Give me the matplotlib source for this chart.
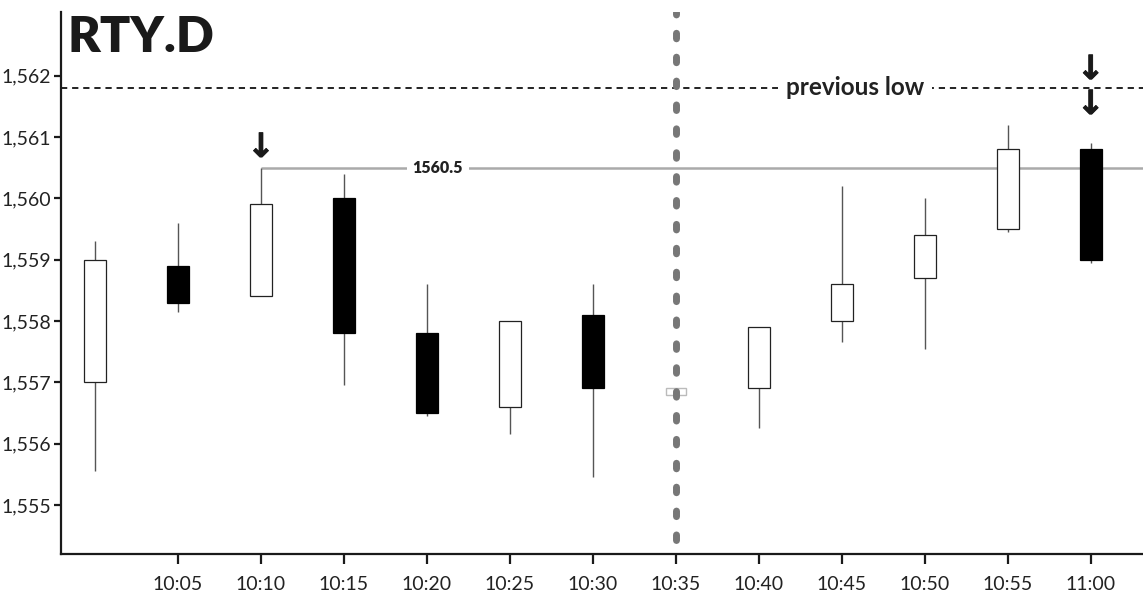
import matplotlib
matplotlib.use("Agg")
import matplotlib.pyplot as plt
import matplotlib.patheffects as pe
from matplotlib.patches import Rectangle
from matplotlib.ticker import FuncFormatter

times = ["10:00", "10:05", "10:10", "10:15", "10:20", "10:25", "10:30",
         "10:35", "10:40", "10:45", "10:50", "10:55", "11:00"]
opens = [1557.0, 1558.9, 1558.4, 1560.0, 1557.8, 1556.6, 1558.1,
         1556.8, 1556.9, 1558.0, 1558.7, 1559.5, 1560.8]
highs = [1559.3, 1559.6, 1560.5, 1560.4, 1558.6, 1558.0, 1558.6,
         1556.9, 1557.9, 1560.2, 1560.0, 1561.2, 1560.9]
lows = [1555.55, 1558.15, 1558.4, 1556.95, 1556.45, 1556.15, 1555.45,
        1556.8, 1556.25, 1557.65, 1557.55, 1559.45, 1558.95]
closes = [1559.0, 1558.3, 1559.9, 1557.8, 1556.5, 1558.0, 1556.9,
          1556.9, 1557.9, 1558.6, 1559.4, 1560.8, 1559.0]
tick_labels = ["", "10:05", "10:10", "10:15", "10:20", "10:25", "10:30",
               "10:35", "10:40", "10:45", "10:50", "10:55", "11:00"]
y_ticks = [1555, 1556, 1557, 1558, 1559, 1560, 1561, 1562]
previous_low = 1561.8
level = 1560.5
level_start = 2   # 10:10
split_index = 7   # 10:35
doji_index = 7

plt.rcParams['font.family'] = ['Lato', 'DejaVu Sans']
plt.rcParams['lines.scale_dashes'] = False

fig = plt.figure(figsize=(11.43, 5.99), dpi=100)
ax = fig.add_axes([0.0534, 0.0751, 0.9466, 0.905])

xs = list(range(len(times)))
width = 0.27
for i in xs:
    o, h, l, c = opens[i], highs[i], lows[i], closes[i]
    if i == doji_index:
        ax.add_patch(Rectangle((i - 0.12, min(o, c)), 0.24, abs(c - o),
                               facecolor='white', edgecolor='#bbbbbb', lw=1, zorder=2))
        continue
    ax.plot([i, i], [l, h], color='#555555', lw=1, zorder=2, solid_capstyle='butt')
    up = c >= o
    ax.add_patch(Rectangle((i - width / 2, min(o, c)), width, abs(c - o),
                           facecolor='white' if up else 'black',
                           edgecolor='#222222' if up else 'black', lw=0.9, zorder=3))

# previous low line
ax.axhline(previous_low, color='#111111', lw=1.3, dashes=(4.5, 3.5), zorder=1)
ax.text(9.16, previous_low, "previous low", ha='center', va='center', fontsize=17.5,
        fontweight='bold', color='#222222',
        bbox=dict(facecolor='white', edgecolor='none', pad=6), zorder=4)

# 1560.5 level
ax.plot([level_start, 12.7], [level, level], color='#aaaaaa', lw=1.8, zorder=1,
        solid_capstyle='butt')
ax.text(4.13, level, "1560.5", ha='center', va='center', fontsize=11.5,
        fontweight='heavy', color='#222222',
        bbox=dict(facecolor='white', edgecolor='none', pad=4), zorder=4)

# vertical dotted split
ax.axvline(split_index, color='#777777', lw=5, dashes=(4.0, 13.2),
           dash_capstyle='round', zorder=5, ymin=0.025, ymax=1.0)

# arrows
arrow_kw = dict(ha='center', va='center', fontsize=24, fontweight='bold',
                color='#1a1a1a', family=['DejaVu Sans'], zorder=6,
                path_effects=[pe.withStroke(linewidth=0.6, foreground='#1a1a1a')])
ax.text(2, 1560.83, "↓", **arrow_kw)
ax.text(12, 1562.1, "↓", **arrow_kw)
ax.text(12, 1561.53, "↓", **arrow_kw)

# title
ax.text(0.006, 0.995, "RTY.D", transform=ax.transAxes, ha='left', va='top',
        fontsize=36, fontweight='heavy', color='#1a1a1a', zorder=6)

ax.set_xlim(-0.41, 12.63)
ax.set_ylim(1554.2, 1563.04)
ax.set_xticks(xs[1:])
ax.set_xticklabels(tick_labels[1:])
ax.set_yticks(y_ticks)
ax.yaxis.set_major_formatter(FuncFormatter(lambda v, p: f"{v:,.0f}"))
for s in ['top', 'right']:
    ax.spines[s].set_visible(False)
for s in ['left', 'bottom']:
    ax.spines[s].set_linewidth(1.6)
    ax.spines[s].set_color('#1a1a1a')
ax.tick_params(axis='both', length=5, width=1.6, color='#1a1a1a',
               labelsize=14, labelcolor='#222222')
ax.tick_params(axis='x', length=7, pad=9)
ax.tick_params(axis='y', pad=2)

fig.savefig("out.png", dpi=100)
